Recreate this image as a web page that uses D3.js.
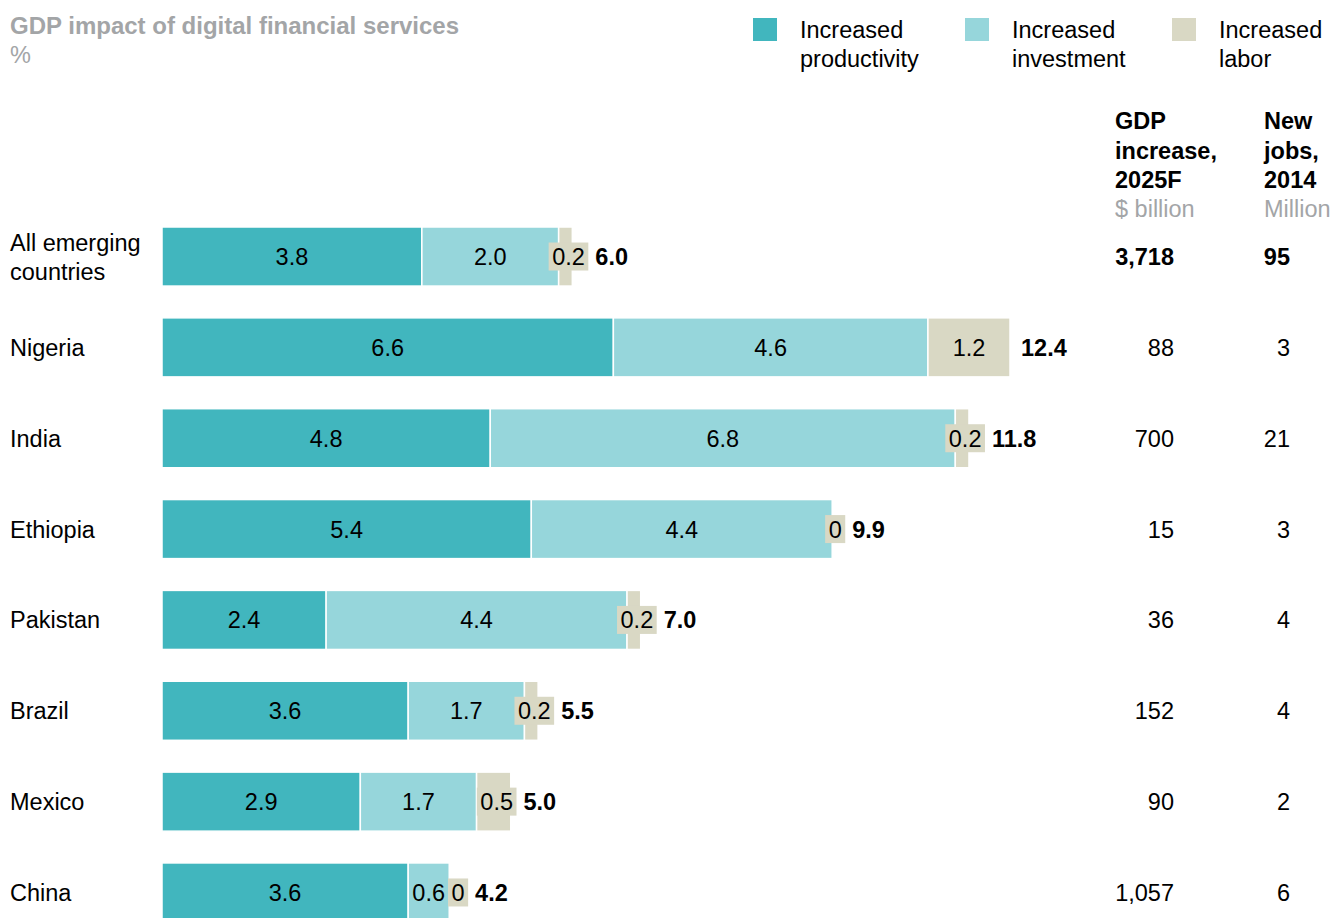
<!DOCTYPE html>
<html>
<head>
<meta charset="utf-8">
<script src="https://cdn.jsdelivr.net/npm/d3@7"></script>
<style>
  body { margin: 0; background: #fff; }
  svg { font-family: "Liberation Sans", Arial, sans-serif; }
</style>
</head>
<body>
<div id="chart"></div>
<script>
// data
const countries = ["All emerging countries", "Nigeria", "India", "Ethiopia", "Pakistan", "Brazil", "Mexico", "China"]
const productivity = [3.8, 6.6, 4.8, 5.4, 2.4, 3.6, 2.9, 3.6]
const investment = [2.0, 4.6, 6.8, 4.4, 4.4, 1.7, 1.7, 0.6]
const labor = [0.2, 1.2, 0.2, 0, 0.2, 0.2, 0.5, 0]
const totals = ["6.0", "12.4", "11.8", "9.9", "7.0", "5.5", "5.0", "4.2"]
const gdpIncrease = ["3,718", "88", "700", "15", "36", "152", "90", "1,057"]
const newJobs = ["95", "3", "21", "3", "4", "4", "2", "6"]
const seriesNames = ["Increased productivity", "Increased investment", "Increased labor"]
const colors = ["#41b6be", "#96d6db", "#d9d8c4"]

const width = 1333, height = 918
const fs = "23.5px"

const svg = d3.select("#chart").append("svg")
    .attr("width", width)
    .attr("height", height)

// scales
const x = d3.scaleLinear().domain([0, 12.4]).range([162, 1010])
const y = d3.scaleBand().domain(countries).range([227, 922]).paddingInner(0.35).paddingOuter(0)

// title
svg.append("text").attr("x", 10).attr("y", 34)
    .style("font-size", "24px").style("font-weight", "bold").style("fill", "#a3a5a7")
    .text("GDP impact of digital financial services")
svg.append("text").attr("x", 10).attr("y", 63)
    .style("font-size", fs).style("fill", "#a3a5a7")
    .text("%")

// legend
const legendX = [753, 965, 1172]
seriesNames.forEach((name, i) => {
    const g = svg.append("g").attr("transform", "translate(" + legendX[i] + ",0)")
    g.append("rect").attr("x", 0).attr("y", 18).attr("width", 24).attr("height", 23).style("fill", colors[i])
    const words = name.split(" ")
    g.append("text").attr("x", 47).attr("y", 38).style("font-size", fs).text(words[0])
    g.append("text").attr("x", 47).attr("y", 67).style("font-size", fs).text(words[1])
})

// column headers
const headers = [
    { x: 1115, lines: ["GDP", "increase,", "2025F"], unit: "$ billion" },
    { x: 1264, lines: ["New", "jobs,", "2014"], unit: "Million" }
]
headers.forEach(h => {
    h.lines.forEach((l, i) => {
        svg.append("text").attr("x", h.x).attr("y", 129 + i * 29.5)
            .style("font-size", fs).style("font-weight", "bold").text(l)
    })
    svg.append("text").attr("x", h.x).attr("y", 217)
        .style("font-size", fs).style("fill", "#a3a5a7").text(h.unit)
})

// stack the series
const rows = countries.map((c, i) => ({ country: c, values: [productivity[i], investment[i], labor[i]], i: i }))

const rowG = svg.selectAll(".row")
    .data(rows)
    .enter()
    .append("g")
    .attr("class", "row")

// row labels
rowG.each(function(d) {
    const g = d3.select(this)
    const cy = y(d.country) + y.bandwidth() / 2
    if (d.country === "All emerging countries") {
        g.append("text").attr("x", 10).attr("y", cy - 6).style("font-size", fs).text("All emerging")
        g.append("text").attr("x", 10).attr("y", cy + 23).style("font-size", fs).text("countries")
    } else {
        g.append("text").attr("x", 10).attr("y", cy + 8.5).style("font-size", fs).text(d.country)
    }
})

// bars + labels
rowG.each(function(d) {
    const g = d3.select(this)
    const top = y(d.country), bh = y.bandwidth(), cy = top + bh / 2
    let start = 0
    let labelEnd = 0
    let prevRight = 0
    d.values.forEach((v, k) => {
        const x0 = x(start), x1 = x(start + v)
        if (v > 0) {
            g.append("rect")
                .attr("x", x0).attr("y", top)
                .attr("width", x1 - x0).attr("height", bh)
                .style("fill", colors[k])
                .style("stroke", "#fff").style("stroke-width", 1.5)
        }
        const label = v.toFixed(1) === "0.0" ? "0" : v.toFixed(1)
        const t = g.append("text")
            .attr("y", cy + 8.5)
            .attr("text-anchor", "middle")
            .style("font-size", fs)
            .text(label)
        const tw = t.node().getComputedTextLength()
        let cx = (x0 + x1) / 2
        if (tw + 2 > x1 - x0) {
            // label does not fit: put it on a small box
            const bw = tw + 7
            cx = Math.max(cx + 3, prevRight + 3 + bw / 2)
            g.insert("rect", function() { return t.node() })
                .attr("x", cx - bw / 2).attr("y", cy - 14)
                .attr("width", bw).attr("height", 28)
                .style("fill", colors[2])
            labelEnd = Math.max(labelEnd, cx + bw / 2 + 7)
        }
        t.attr("x", cx)
        prevRight = cx + tw / 2
        start += v
    })
    const tx = Math.max(x(start) + 11, labelEnd)
    g.append("text").attr("x", tx).attr("y", cy + 8.5)
        .style("font-size", fs).style("font-weight", "bold")
        .text(totals[d.i])

    const bold = d.i === 0 ? "bold" : "normal"
    g.append("text").attr("x", 1174).attr("y", cy + 8.5).attr("text-anchor", "end")
        .style("font-size", fs).style("font-weight", bold).text(gdpIncrease[d.i])
    g.append("text").attr("x", 1290).attr("y", cy + 8.5).attr("text-anchor", "end")
        .style("font-size", fs).style("font-weight", bold).text(newJobs[d.i])
})
</script>
</body>
</html>
